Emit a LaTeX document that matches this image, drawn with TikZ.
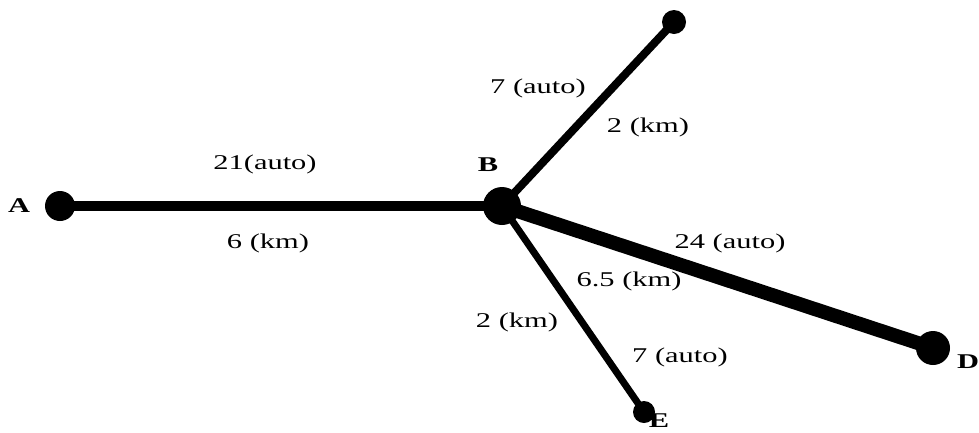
\documentclass[tikz,border=0pt]{standalone}
\usepackage{fontspec}
\setmainfont{Liberation Serif}
\newfontfamily\widefont[FakeStretch=1.45]{Liberation Serif}
\begin{document}
\begin{tikzpicture}[x=1pt,y=-1pt,
  dot/.style={circle,fill=black,inner sep=0pt,minimum size=#1},
  lbl/.style={font=\widefont\fontsize{21}{25}\selectfont,inner sep=0pt},
  nm/.style={font=\widefont\fontsize{21}{25}\selectfont\bfseries,inner sep=0pt}]
\useasboundingbox (0,0) rectangle (979,432);
\node[dot=30pt] (A) at (60,206) {};
\node[dot=38pt] (B) at (502,206) {};
\node[dot=24pt] (T) at (674,22) {};
\node[dot=34pt] (D) at (933,348) {};
\node[dot=22pt] (E) at (644,412) {};
\draw[line width=10pt] (A.center) -- (B.center);
\draw[line width=8pt] (B.center) -- (T.center);
\draw[line width=14pt] (B.center) -- (D.center);
\draw[line width=7pt] (B.center) -- (E.center);
\node[nm] (la) at (19,206) {A};
\node[nm] (lb) at (488,165) {B};
\node[nm] (ld) at (968,362) {D};
\node[nm] (le) at (659,421) {E};
\node[lbl] (l1) at (265,164) {21(auto)};
\node[lbl] (l2) at (268,243) {6 (km)};
\node[lbl] (l3) at (538,88) {7 (auto)};
\node[lbl] (l4) at (648,127) {2 (km)};
\node[lbl] (l5) at (730,243) {24 (auto)};
\node[lbl] (l6) at (629,281) {6.5 (km)};
\node[lbl] (l7) at (517,322) {2 (km)};
\node[lbl] (l8) at (680,357) {7 (auto)};
\end{tikzpicture}
\end{document}
